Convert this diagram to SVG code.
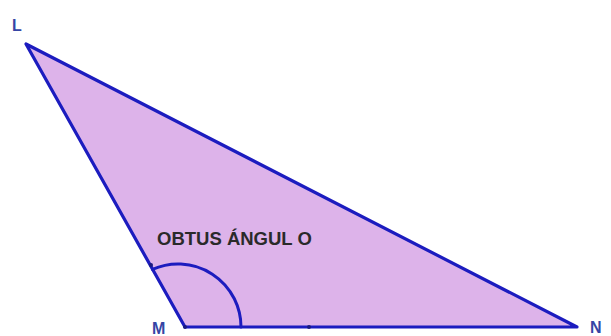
<svg xmlns="http://www.w3.org/2000/svg" width="611" height="336" viewBox="0 0 611 336">
<style>
.lbl{font-family:"Liberation Sans",Arial,sans-serif;font-weight:bold;font-size:16px;fill:#3545a5}
.txt{font-family:"Liberation Sans",Arial,sans-serif;font-weight:bold;font-size:18.5px;fill:#2a2a2a}
.edge{fill:none;stroke:#1c1cbf;stroke-width:3;stroke-linecap:round;stroke-linejoin:round}
.pt{fill:#1a1a80}
</style>
<rect width="611" height="336" fill="#ffffff"/>
<g id="triangle">
<polygon points="26,44 185,327 577,327" fill="#ddb3ea" stroke="#1c1cbf" stroke-width="3.2" stroke-linejoin="round"/>
</g>
<g id="angle">
<path class="edge" d="M 152.4 269.4 A 63 63 0 0 1 241 327" stroke-width="2.6"/>
<circle class="pt" cx="151" cy="265" r="2"/>
<circle class="pt" cx="309" cy="327" r="2"/>
<circle class="pt" cx="185" cy="327" r="2"/>
<text class="txt" x="157" y="245">OBTUS ÁNGUL O</text>
</g>
<g id="L"><text class="lbl" x="12" y="31">L</text></g>
<g id="M"><text class="lbl" x="152" y="334">M</text></g>
<g id="N"><text class="lbl" x="590" y="333">N</text></g>
</svg>
